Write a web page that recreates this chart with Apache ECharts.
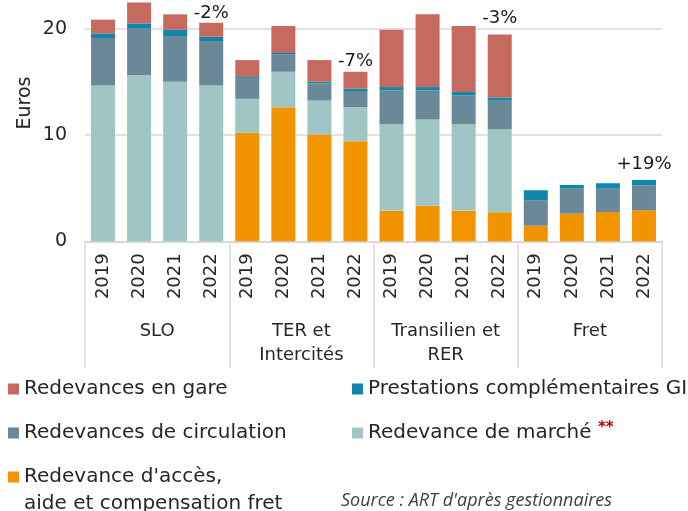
<!DOCTYPE html>
<html>
<head>
<meta charset="utf-8">
<script src="https://cdn.jsdelivr.net/npm/echarts@6/dist/echarts.min.js"></script>
<style>html,body{margin:0;padding:0;background:#fff;}#c{width:688px;height:511px;}</style>
</head>
<body>
<div id="c"></div>
<script>
const years = ['2019','2020','2021','2022','2019','2020','2021','2022','2019','2020','2021','2022','2019','2020','2021','2022'];
const groups = ['SLO', 'TER et\nIntercités', 'Transilien et\nRER', 'Fret'];
const yTicks = [0, 10, 20];

const acces   = [0, 0, 0, 0, 10.22, 12.64, 10.06, 9.43, 2.89, 3.36, 2.89, 2.74, 1.47, 2.60, 2.76, 2.92];
const marche  = [14.68, 15.66, 15.03, 14.68, 3.20, 3.33, 3.20, 3.21, 8.15, 8.15, 8.15, 7.83, 0, 0, 0, 0];
const circ    = [4.47, 4.43, 4.31, 4.19, 1.89, 1.61, 1.61, 1.44, 3.17, 2.70, 2.70, 2.67, 2.40, 2.36, 2.20, 2.36];
const prest   = [0.44, 0.44, 0.59, 0.40, 0.16, 0.16, 0.16, 0.29, 0.32, 0.32, 0.32, 0.31, 0.94, 0.35, 0.51, 0.50];
const gare    = [1.29, 1.97, 1.45, 1.32, 1.60, 2.54, 2.04, 1.60, 5.40, 6.85, 6.22, 5.94, 0, 0, 0, 0];
const changes = [null, null, null, '-2%', null, null, null, '-7%', null, null, null, '-3%', null, null, null, '+19%'];

const names = {
  gare: 'Redevances en gare',
  prest: 'Prestations complémentaires GI',
  circ: 'Redevances de circulation',
  marche: 'Redevance de marché',
  acces: "Redevance d'accès, aide et compensation fret"
};
const colors = {gare:'#c66a5f', prest:'#0f86aa', circ:'#6b8898', marche:'#9fc6c4', acces:'#f29400'};

const FONT = 'DejaVu Sans';
const TXT = '#262626';
const GRID = '#d9d9d9';

function nz(a){ return a.map(v => v === 0 ? '-' : v); }
function bar(key, arr){
  return {
    name: names[key], type: 'bar', stack: 'tot', xAxisIndex: 0, yAxisIndex: 0,
    data: nz(arr), barWidth: 24, clip: false,
    itemStyle: {color: colors[key]}, emphasis: {disabled: true}
  };
}
const totals = years.map((_, i) => acces[i] + marche[i] + circ[i] + prest[i] + gare[i]);
const labelDist = [0, 0, 0, 0, 0, 0, 0, 1, 0, 0, 0, 7, 0, 0, 0, 7];
const annData = years.map((_, i) => changes[i] ? {value: totals[i], label: {distance: labelDist[i]}} : '-');

const chart = echarts.init(document.getElementById('c'), null, {renderer: 'canvas'});

function leg(key, left, top, fmt){
  return {
    data: [names[key]], left: left, top: top, orient: 'horizontal',
    icon: 'rect', itemWidth: 11, itemHeight: 11, padding: 0, selectedMode: false,
    textStyle: Object.assign({fontFamily: FONT, fontSize: 20, color: TXT, lineHeight: 24}, fmt ? {rich: fmt.rich} : {}),
    formatter: fmt ? fmt.f : undefined
  };
}

chart.setOption({
  animation: false,
  backgroundColor: '#fff',
  grid: {left: 85, right: 26, top: 29, bottom: 269.7, containLabel: false},
  xAxis: [
    {
      type: 'category', data: years, position: 'bottom',
      axisLine: {show: true, lineStyle: {color: GRID, width: 2}},
      axisTick: {show: false},
      axisLabel: {rotate: 90, margin: 12, fontFamily: FONT, fontSize: 18, color: TXT, interval: 0}
    },
    {
      type: 'category', data: groups, position: 'bottom', offset: 0,
      axisLine: {show: false},
      axisTick: {show: true, length: 126, interval: 0, lineStyle: {color: GRID, width: 1.5}},
      axisLabel: {margin: 78, fontFamily: FONT, fontSize: 18, color: TXT, lineHeight: 24, interval: 0, verticalAlign: 'top'}
    }
  ],
  yAxis: {
    type: 'value', min: 0, max: 20, interval: 10,
    axisLine: {show: false}, axisTick: {show: false},
    splitLine: {lineStyle: {color: GRID, width: 1.5}},
    axisLabel: {margin: 18, fontFamily: FONT, fontSize: 19, color: TXT,
      formatter: v => yTicks.indexOf(v) >= 0 ? String(v) : ''}
  },
  legend: [
    leg('gare', 8, 377),
    leg('prest', 352, 377),
    leg('circ', 8, 421),
    leg('marche', 352, 421, {f: n => '{a|' + n + '} {s|**}', rich: {a: {fontFamily: FONT, fontSize: 20, color: TXT}, s: {fontFamily: FONT, fontSize: 15, color: '#c00000', fontWeight: 'bold', verticalAlign: 'top', padding: [0,0,8,0]}}}),
    leg('acces', 8, 465, {f: n => "Redevance d'accès,", rich: {}})
  ],
  graphic: [
    {type: 'text', x: 25, y: 103, rotation: Math.PI / 2,
      style: {text: 'Euros', fontFamily: FONT, fontSize: 19, fill: TXT, align: 'center', verticalAlign: 'middle'}},
    {type: 'text', left: 24, top: 492,
      style: {text: 'aide et compensation fret', fontFamily: FONT, fontSize: 20, fill: TXT, lineHeight: 24}},
    {type: 'text', left: 341, top: 492,
      style: {text: "Source : ART d'après gestionnaires", fontFamily: 'Open Sans', fontStyle: 'italic', fontSize: 18, fill: '#404040'}}
  ],
  series: [
    bar('acces', acces),
    bar('marche', marche),
    bar('circ', circ),
    bar('prest', prest),
    bar('gare', gare),
    {
      type: 'scatter', xAxisIndex: 0, yAxisIndex: 0, data: annData, symbolSize: 0.1, clip: false,
      itemStyle: {color: '#ffffff', opacity: 1}, silent: true,
      label: {show: true, position: 'top', fontFamily: FONT, fontSize: 18, color: '#1a1a1a', opacity: 1,
        formatter: p => changes[p.dataIndex] || ''}
    }
  ]
});
</script>
</body>
</html>
